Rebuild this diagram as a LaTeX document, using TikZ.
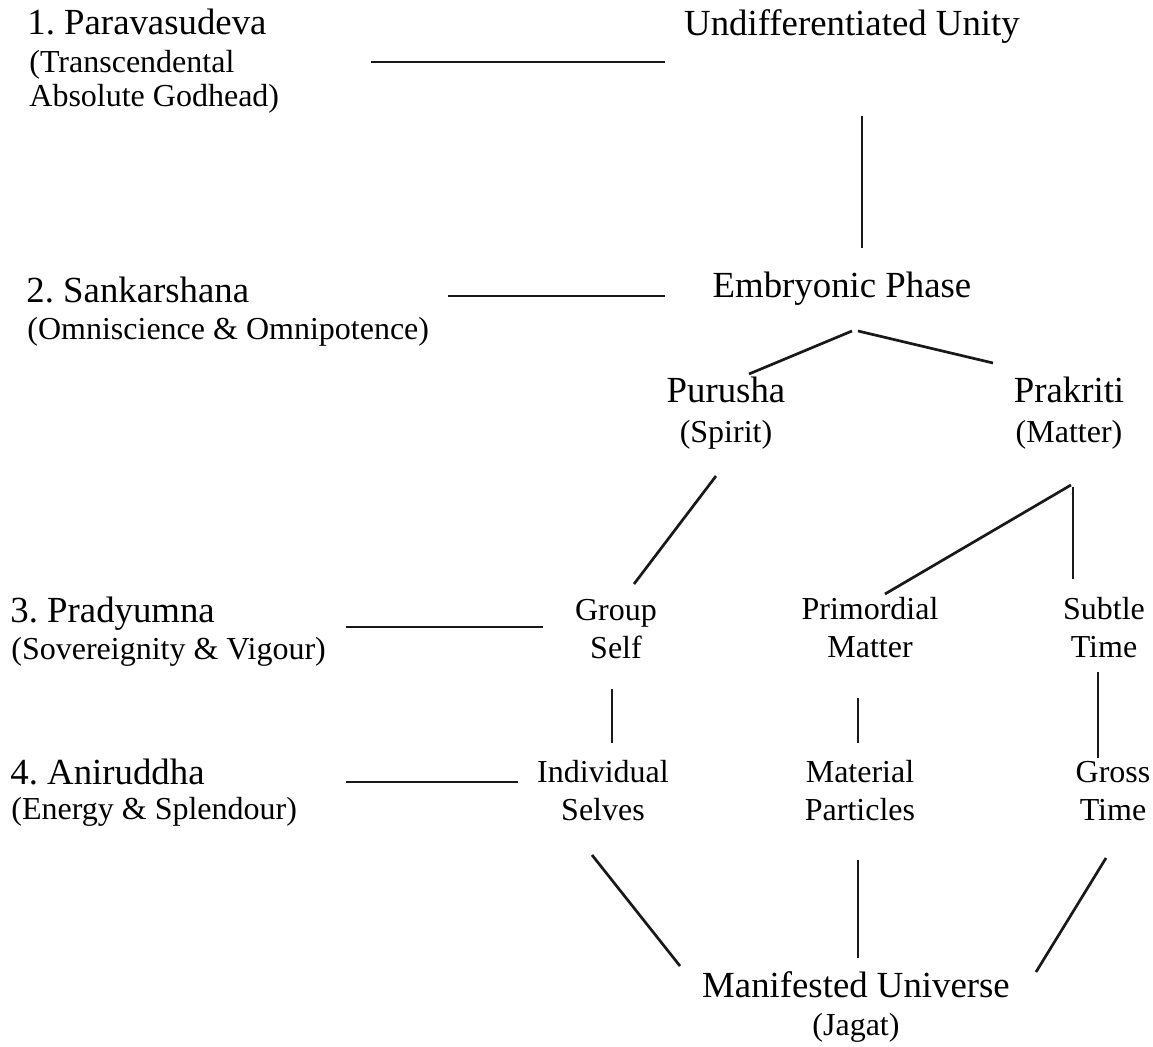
\documentclass[tikz,border=0pt]{standalone}
\usepackage{fontspec}
\setmainfont{Liberation Serif}
\usepackage{tikz}
\usetikzlibrary{calc}
\frenchspacing

\begin{document}
\begin{tikzpicture}[x=0.5pt, y=-0.5pt,
  bigtext/.style={font=\fontsize{18.4}{22}\selectfont, inner sep=0pt, anchor=base},
  smalltext/.style={font=\fontsize{16}{19}\selectfont, inner sep=0pt, anchor=base, align=center},
  link/.style={line width=1.35pt, black!90}]

\useasboundingbox (0,0) rectangle (1153,1047);

% left column: the four forms
\node[bigtext, anchor=base west] (para) at (27,35) {1. Paravasudeva};
\node[smalltext, anchor=base west, align=left, font=\fontsize{16}{17}\selectfont] (trans) at (29,107) {(Transcendental\\Absolute Godhead)};
\node[bigtext, anchor=base west] (sank) at (26,303) {2. Sankarshana};
\node[smalltext, anchor=base west] (omni) at (27,340) {(Omniscience \& Omnipotence)};
\node[bigtext, anchor=base west] (prad) at (10,623) {3. Pradyumna};
\node[smalltext, anchor=base west] (sove) at (11,660) {(Sovereignity \& Vigour)};
\node[bigtext, anchor=base west] (anir) at (10,785) {4. Aniruddha};
\node[smalltext, anchor=base west] (ener) at (11,820) {(Energy \& Splendour)};

% right side: the unfolding (two-line nodes sit on their last line)
\node[bigtext] (unity) at (852,36) {Undifferentiated Unity};
\node[bigtext] (embryo) at (842,298) {Embryonic Phase};
\node[bigtext] (purusha) at (726,403) {Purusha};
\node[smalltext] (spirit) at (726,443) {(Spirit)};
\node[bigtext] (prakriti) at (1069,403) {Prakriti};
\node[smalltext] (matter) at (1069,443) {(Matter)};

\node[smalltext] (group) at (616,659) {Group\\Self};
\node[smalltext] (primordial) at (870,658) {Primordial\\Matter};
\node[smalltext] (subtle) at (1104,658) {Subtle\\Time};

\node[smalltext] (individual) at (603,821) {Individual\\Selves};
\node[smalltext] (material) at (860,821) {Material\\Particles};
\node[smalltext] (gross) at (1113,821) {Gross\\Time};

\node[bigtext] (universe) at (856,998) {Manifested Universe};
\node[smalltext] (jagat) at (856,1036) {(Jagat)};

% free ends of the connectors
\coordinate (l1a) at (371,62);   \coordinate (l1b) at (665,62);
\coordinate (l2a) at (448,296);  \coordinate (l2b) at (665,296);
\coordinate (l3a) at (346,627);  \coordinate (l3b) at (543,627);
\coordinate (l4a) at (346,782);  \coordinate (l4b) at (518,782);
\coordinate (u-s) at (862,116);  \coordinate (e-n) at (862,248);
\coordinate (e-sl) at (852,331); \coordinate (pu-n) at (749,374);
\coordinate (e-sr) at (858,331); \coordinate (pr-n) at (993,363);
\coordinate (pu-s) at (716,476); \coordinate (g-n) at (634,584);
\coordinate (pr-s) at (1071,485); \coordinate (pm-n) at (885,594);
\coordinate (pr-v) at (1073,487); \coordinate (st-n) at (1073,579);
\coordinate (g-s) at (612,689);  \coordinate (i-n) at (612,743);
\coordinate (pm-s) at (858,698); \coordinate (m-n) at (858,743);
\coordinate (st-s) at (1098,672); \coordinate (gr-n) at (1098,758);
\coordinate (i-s) at (592,855);  \coordinate (mu-l) at (680,966);
\coordinate (m-s) at (858,860);  \coordinate (mu-c) at (858,958);
\coordinate (gr-s) at (1106,858); \coordinate (mu-r) at (1036,972);

\draw[link] (l1a) -- (l1b);
\draw[link] (l2a) -- (l2b);
\draw[link] (l3a) -- (l3b);
\draw[link] (l4a) -- (l4b);

\draw[link] (u-s) -- (e-n);
\draw[link] (e-sl) -- (pu-n);
\draw[link] (e-sr) -- (pr-n);
\draw[link] (pu-s) -- (g-n);
\draw[link] (pr-s) -- (pm-n);
\draw[link] (pr-v) -- (st-n);
\draw[link] (g-s) -- (i-n);
\draw[link] (pm-s) -- (m-n);
\draw[link] (st-s) -- (gr-n);
\draw[link] (i-s) -- (mu-l);
\draw[link] (m-s) -- (mu-c);
\draw[link] (gr-s) -- (mu-r);

\end{tikzpicture}
\end{document}
